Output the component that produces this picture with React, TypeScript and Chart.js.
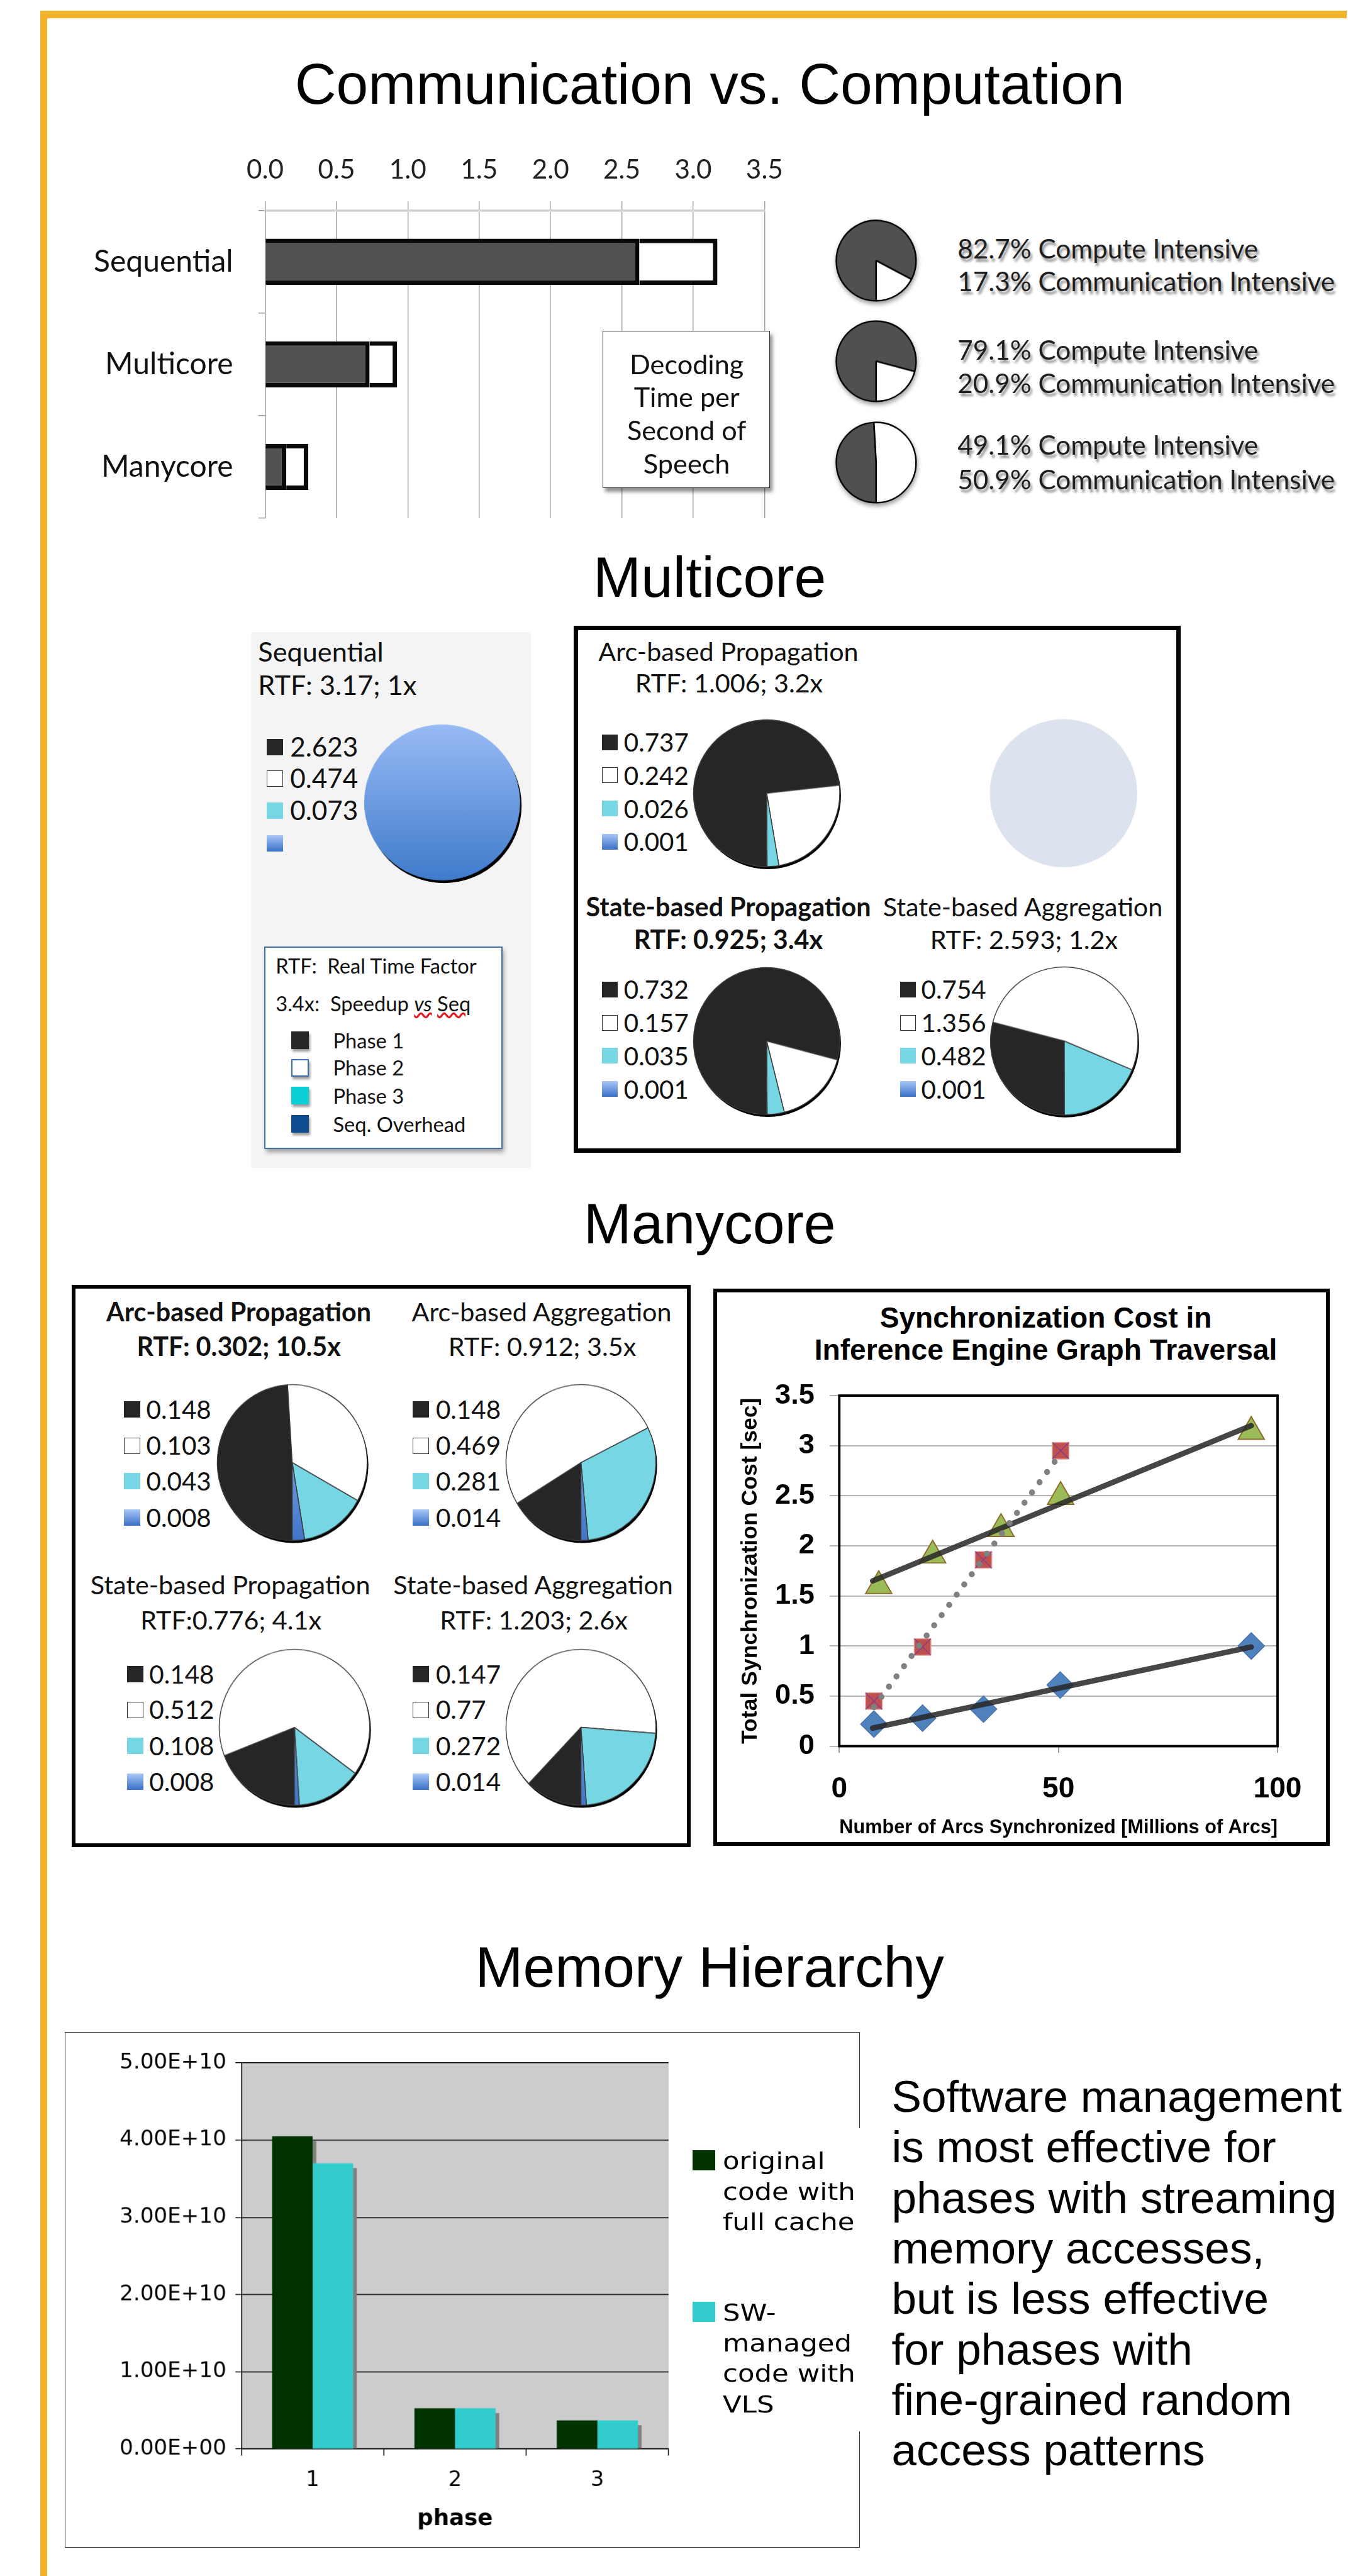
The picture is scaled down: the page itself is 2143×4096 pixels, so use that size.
import React, { useEffect, useRef } from 'react';
import { Chart, registerables } from 'chart.js';

Chart.register(...registerables);

const K = 0.961;
const s = (v: number) => v * K;

const LATO = 'Lato, "Open Sans", sans-serif';
const ARIAL = '"Liberation Sans", Arial, sans-serif';
const DEJAVU = '"DejaVu Sans", Verdana, sans-serif';

// ---------------- DATA ----------------
const commCategories = ['Sequential', 'Multicore', 'Manycore'];
const computeTime = [2.623, 0.732, 0.148];
const communicationTime = [0.547, 0.193, 0.154];
const computeShare = [82.7, 79.1, 49.1];
const communicationShare = [17.3, 20.9, 50.9];
const decodingLabel = ['Decoding', 'Time per', 'Second of', 'Speech'];

const seqPhaseValues = [2.623, 0.474, 0.073];
const mcArcPropValues = [0.737, 0.242, 0.026, 0.001];
const mcStatePropValues = [0.732, 0.157, 0.035, 0.001];
const mcStateAggValues = [0.754, 1.356, 0.482, 0.001];

const manyArcPropValues = [0.148, 0.103, 0.043, 0.008];
const manyArcAggValues = [0.148, 0.469, 0.281, 0.014];
const manyStatePropValues = [0.148, 0.512, 0.108, 0.008];
const manyStateAggValues = [0.147, 0.77, 0.272, 0.014];

const syncDiamondX = [7.9, 19.0, 32.9, 50.4, 94.0];
const syncDiamondY = [0.22, 0.28, 0.37, 0.61, 1.0];
const syncSquareX = [7.9, 19.0, 32.9, 50.5];
const syncSquareY = [0.45, 0.99, 1.86, 2.95];
const syncTriangleX = [9.0, 21.3, 36.9, 50.5, 94.0];
const syncTriangleY = [1.6, 1.905, 2.17, 2.49, 3.14];
const diamondTrendX = [7.6, 94.0];
const diamondTrendY = [0.18, 0.99];
const squareTrendX = [7.9, 50.5];
const squareTrendY = [0.39, 2.92];
const triangleTrendX = [7.6, 94.0];
const triangleTrendY = [1.65, 3.2];

const memPhases = ['1', '2', '3'];
const memOriginal = [4.05e10, 0.527e10, 0.37e10];
const memSwManaged = [3.7e10, 0.527e10, 0.37e10];
const memSeriesLines = [
  ['original', 'code with', 'full cache'],
  ['SW-', 'managed', 'code with', 'VLS'],
];
const memNote = [
  'Software management',
  'is most effective for',
  'phases with streaming',
  'memory accesses,',
  'but is less effective',
  'for phases with',
  'fine-grained random',
  'access patterns',
];

// ---------------- HELPERS ----------------
const DARK = '#262626';
const CYAN = '#76d6e4';

const baseOptions: any = {
  animation: false,
  responsive: true,
  maintainAspectRatio: false,
  events: [],
  plugins: { legend: { display: false }, tooltip: { enabled: false } },
};

const zeroPad = (sc: any) => {
  sc.paddingLeft = 0;
  sc.paddingRight = 0;
  sc.paddingTop = 0;
  sc.paddingBottom = 0;
};
const fixH = (h: number) => (sc: any) => {
  sc.height = s(h);
  zeroPad(sc);
};
const fixW = (w: number) => (sc: any) => {
  sc.width = s(w);
  zeroPad(sc);
};

function blueGrad(ctx: any, top = '#a8c6f8', bottom = '#3a70c6') {
  const chart = ctx.chart;
  const a = chart.chartArea;
  if (!a) return bottom;
  const g = chart.ctx.createLinearGradient(0, a.top, 0, a.bottom);
  g.addColorStop(0, top);
  g.addColorStop(1, bottom);
  return g;
}

const crescent = (dx: number, dy: number, color: string) => ({
  id: 'crescent',
  beforeDatasetsDraw(chart: any) {
    const arc = chart.getDatasetMeta(0).data[0];
    if (!arc) return;
    const c = chart.ctx;
    c.save();
    c.fillStyle = color;
    c.beginPath();
    c.arc(arc.x + dx, arc.y + dy, arc.outerRadius, 0, Math.PI * 2);
    c.fill();
    c.restore();
  },
});

function phasePie(values: number[], r: number) {
  return () => ({
    type: 'pie',
    data: {
      labels: values.map((v) => String(v)),
      datasets: [
        {
          data: values,
          backgroundColor: (ctx: any) => [DARK, '#ffffff', CYAN, blueGrad(ctx)][ctx.dataIndex],
          borderColor: '#3a3a3a',
          borderWidth: s(1.5),
          radius: s(r),
          rotation: 180,
        },
      ],
    },
    options: { ...baseOptions, rotation: 180 },
    plugins: [crescent(s(2), s(4), '#000')],
  });
}

function ChartBox({ cx, cy, x, y, w, h, make, style }: any) {
  const ref = useRef<HTMLCanvasElement | null>(null);
  useEffect(() => {
    if (!ref.current) return;
    const chart = new Chart(ref.current, make());
    return () => chart.destroy();
  }, []);
  const left = cx !== undefined ? cx - w / 2 : x;
  const top = cy !== undefined ? cy - h / 2 : y;
  return (
    <div style={{ position: 'absolute', left: s(left), top: s(top), width: s(w), height: s(h), ...style }}>
      <canvas ref={ref} />
    </div>
  );
}

function Txt({ x, y, size, children, align = 'left', weight = 400, family = LATO, color = '#111', style }: any) {
  const lh = size * 1.2;
  const common: React.CSSProperties = {
    position: 'absolute',
    top: s(y - lh / 2),
    height: s(lh),
    lineHeight: `${s(lh)}px`,
    fontSize: s(size),
    fontFamily: family,
    fontWeight: weight,
    color,
    whiteSpace: 'pre',
    ...style,
  };
  if (align === 'center')
    return <div style={{ ...common, left: s(x - 700), width: s(1400), textAlign: 'center' }}>{children}</div>;
  if (align === 'right')
    return <div style={{ ...common, left: s(x - 1400), width: s(1400), textAlign: 'right' }}>{children}</div>;
  return <div style={{ ...common, left: s(x) }}>{children}</div>;
}

const markerStyles: React.CSSProperties[] = [
  { background: DARK },
  { background: '#fff', border: `${s(2)}px solid #333`, boxSizing: 'border-box' },
  { background: CYAN },
  { background: 'linear-gradient(#a8c6f8, #3a70c6)' },
];

function PieLegend({ x, ys, values, size = 42, msize = 27, textX }: any) {
  return (
    <>
      {ys.map((y: number, i: number) => (
        <React.Fragment key={i}>
          <div
            style={{
              position: 'absolute',
              left: s(x),
              top: s(y - msize / 2),
              width: s(msize),
              height: s(msize),
              ...markerStyles[i],
            }}
          />
          <Txt x={textX} y={y} size={size}>
            {values[i] !== undefined ? String(values[i]) : ''}
          </Txt>
        </React.Fragment>
      ))}
    </>
  );
}

function Box({ x, y, w, h, bw, color = '#000', style }: any) {
  return (
    <div
      style={{
        position: 'absolute',
        left: s(x),
        top: s(y),
        width: s(w),
        height: s(h),
        border: `${s(bw)}px solid ${color}`,
        boxSizing: 'border-box',
        ...style,
      }}
    />
  );
}

// ---------------- CHART CONFIGS ----------------
const commBarConfig = () => ({
  type: 'bar',
  data: {
    labels: commCategories,
    datasets: [
      { data: computeTime, backgroundColor: '#525252', borderColor: '#0a0a0a', borderWidth: s(7.5) },
      { data: communicationTime, backgroundColor: '#ffffff', borderColor: '#0a0a0a', borderWidth: s(7.5) },
    ],
  },
  options: {
    ...baseOptions,
    indexAxis: 'y',
    datasets: { bar: { categoryPercentage: 1, barPercentage: 0.45 } },
    layout: { padding: { right: s(35), bottom: s(23) } },
    scales: {
      x: {
        position: 'top',
        stacked: true,
        min: 0,
        max: 3.5,
        ticks: {
          stepSize: 0.5,
          callback: (v: any) => Number(v).toFixed(1),
          font: { family: LATO, size: s(44) },
          color: '#222',
          padding: s(26),
        },
        grid: { color: '#a0a0a0', lineWidth: s(1.5), tickLength: s(15) },
        border: { color: '#d4d4d4', width: s(4) },
        afterFit: fixH(108),
      },
      y: {
        stacked: true,
        ticks: { font: { family: LATO, size: s(50) }, color: '#111', padding: s(42) },
        grid: { drawOnChartArea: false, offset: true, tickLength: s(11), color: '#999', lineWidth: s(1.5) },
        border: { color: '#aaa', width: s(1.5) },
        afterFit: fixW(319),
      },
    },
  },
});

const smallPie = (i: number) => () => ({
  type: 'pie',
  data: {
    labels: ['Compute Intensive', 'Communication Intensive'],
    datasets: [
      {
        data: [computeShare[i], communicationShare[i]],
        backgroundColor: ['#505050', '#ffffff'],
        borderColor: '#000',
        borderWidth: s(2.5),
        radius: s(66),
        rotation: 180,
      },
    ],
  },
  options: { ...baseOptions, rotation: 180 },
});

const seqPieConfig = () => ({
  type: 'pie',
  data: {
    labels: seqPhaseValues.map(String),
    datasets: [
      {
        data: seqPhaseValues,
        backgroundColor: (ctx: any) => blueGrad(ctx, '#9ebff8', '#3a77c8'),
        borderColor: (ctx: any) => blueGrad(ctx, '#9ebff8', '#3a77c8'),
        borderWidth: 1,
        radius: s(128),
        rotation: 180,
      },
    ],
  },
  options: { ...baseOptions, rotation: 180 },
  plugins: [crescent(s(3), s(5), '#000')],
});

const ghostPieConfig = () => ({
  type: 'pie',
  data: {
    labels: [''],
    datasets: [{ data: [1], backgroundColor: '#dde3ee', borderWidth: 0, radius: s(122) }],
  },
  options: { ...baseOptions },
});

const pts = (xs: number[], ys: number[]) => xs.map((x, i) => ({ x, y: ys[i] }));

const framePlugin = {
  id: 'frame',
  beforeDatasetsDraw(chart: any) {
    const a = chart.chartArea;
    const c = chart.ctx;
    c.save();
    c.strokeStyle = '#000';
    c.lineWidth = s(4);
    c.strokeRect(a.left, a.top, a.right - a.left, a.bottom - a.top);
    c.restore();
  },
};

const syncConfig = () => ({
  type: 'scatter',
  data: {
    datasets: [
      {
        data: pts(diamondTrendX, diamondTrendY),
        showLine: true,
        borderColor: 'rgba(38,38,38,0.85)',
        borderWidth: s(9),
        borderCapStyle: 'round',
        pointRadius: 0,
        order: 0,
      },
      {
        data: pts(squareTrendX, squareTrendY),
        showLine: true,
        borderColor: '#808080',
        borderWidth: s(10),
        borderDash: [0, s(21)],
        borderCapStyle: 'round',
        pointRadius: 0,
        order: 0,
      },
      {
        data: pts(triangleTrendX, triangleTrendY),
        showLine: true,
        borderColor: 'rgba(38,38,38,0.85)',
        borderWidth: s(9),
        borderCapStyle: 'round',
        pointRadius: 0,
        order: 0,
      },
      {
        data: pts(syncSquareX, syncSquareY),
        pointStyle: 'crossRot',
        pointRadius: s(19),
        borderColor: '#7f3f8f',
        borderWidth: s(1.5),
        backgroundColor: 'transparent',
        order: 1,
      },
      {
        data: pts(syncDiamondX, syncDiamondY),
        pointStyle: 'rectRot',
        pointRadius: s(22),
        backgroundColor: '#4f81bd',
        borderColor: '#4674ab',
        borderWidth: s(1.5),
        order: 2,
      },
      {
        data: pts(syncSquareX, syncSquareY),
        pointStyle: 'rect',
        pointRadius: s(19.5),
        backgroundColor: '#c0504d',
        borderColor: '#e3a19f',
        borderWidth: s(1.5),
        order: 2,
      },
      {
        data: pts(syncTriangleX, syncTriangleY),
        pointStyle: 'triangle',
        pointRadius: s(25),
        backgroundColor: '#9bbb59',
        borderColor: '#8d6b2a',
        borderWidth: s(2),
        order: 2,
      },
    ],
  },
  options: {
    ...baseOptions,
    layout: { padding: { top: s(49), right: s(82) } },
    scales: {
      x: {
        type: 'linear',
        min: 0,
        max: 100,
        ticks: {
          stepSize: 50,
          callback: (v: any) => String(Number(v)),
          font: { family: ARIAL, size: s(48), weight: 'bold' },
          color: '#000',
          padding: s(32),
        },
        grid: { drawOnChartArea: false, tickLength: s(11), color: '#999', lineWidth: s(2) },
        border: { display: false },
        title: {
          display: true,
          text: 'Number of Arcs Synchronized [Millions of Arcs]',
          font: { family: ARIAL, size: s(32), weight: 'bold' },
          color: '#000',
          padding: { top: 0, bottom: s(4) },
        },
        afterFit: fixH(159),
      },
      y: {
        min: 0,
        max: 3.5,
        ticks: {
          stepSize: 0.5,
          callback: (v: any) => String(Number(v)),
          font: { family: ARIAL, size: s(47), weight: 'bold' },
          color: '#000',
          padding: s(25),
        },
        grid: { color: '#b3b3b3', lineWidth: s(2), tickLength: s(16) },
        border: { display: false },
        title: {
          display: true,
          text: 'Total Synchronization Cost [sec]',
          font: { family: ARIAL, size: s(37), weight: 'bold' },
          color: '#000',
          padding: { top: s(29), bottom: 0 },
        },
        afterFit: fixW(198),
      },
    },
  },
  plugins: [framePlugin],
});

const plotBg = (color: string) => ({
  id: 'plotBg',
  beforeDraw(chart: any) {
    const a = chart.chartArea;
    const c = chart.ctx;
    c.save();
    c.fillStyle = color;
    c.fillRect(a.left, a.top, a.right - a.left, a.bottom - a.top);
    c.restore();
  },
});

const barShadow = {
  id: 'barShadow',
  beforeDatasetsDraw(chart: any) {
    const c = chart.ctx;
    c.save();
    c.fillStyle = '#808080';
    const dx = s(6);
    const dy = s(8);
    chart.data.datasets.forEach((_: any, d: number) => {
      chart.getDatasetMeta(d).data.forEach((el: any) => {
        c.fillRect(el.x - el.width / 2 + dx, el.y + dy, el.width, el.base - el.y - dy);
      });
    });
    c.restore();
  },
};

const fmtExp = (v: any) => {
  const n = Number(v);
  if (n === 0) return '0.00E+00';
  const e = Math.floor(Math.log10(n) + 1e-9);
  const m = n / Math.pow(10, e);
  return `${m.toFixed(2)}E+${String(e).padStart(2, '0')}`;
};

const memConfig = () => ({
  type: 'bar',
  data: {
    labels: memPhases,
    datasets: [
      { label: memSeriesLines[0].join(' '), data: memOriginal, backgroundColor: '#003300' },
      { label: memSeriesLines[1].join(' '), data: memSwManaged, backgroundColor: '#33cccc' },
    ],
  },
  options: {
    ...baseOptions,
    datasets: { bar: { categoryPercentage: 0.57, barPercentage: 1 } },
    layout: { padding: { top: s(51), right: s(317) } },
    scales: {
      x: {
        grid: { drawOnChartArea: false, offset: true, tickLength: s(11), color: '#000', lineWidth: s(1.5) },
        border: { color: '#000', width: s(1.5) },
        ticks: { font: { family: DEJAVU, size: s(35) }, color: '#000', padding: s(20) },
        title: {
          display: true,
          text: 'phase',
          font: { family: DEJAVU, size: s(37), weight: 'bold' },
          color: '#000',
          padding: { top: 0, bottom: s(26) },
        },
        afterFit: fixH(164),
      },
      y: {
        min: 0,
        max: 5e10,
        ticks: {
          stepSize: 1e10,
          callback: fmtExp,
          font: { family: DEJAVU, size: s(35.5) },
          color: '#000',
          padding: s(15),
        },
        grid: { color: '#000', lineWidth: s(1.5), tickLength: s(10) },
        border: { color: '#000', width: s(1.5) },
        afterFit: fixW(292),
      },
    },
  },
  plugins: [plotBg('#cccccc'), barShadow],
});

// ---------------- APP ----------------
export default function App() {
  const orange = '#f1b32c';
  const smallPieCY = [431, 597, 765];
  const smallTextY = [
    [411, 466],
    [579, 634],
    [736, 793],
  ];
  const mcLegYTop = [1228, 1283, 1338, 1393];
  const mcLegYBot = [1637, 1692, 1747, 1802];
  const manyLegTop = [2332, 2392, 2451, 2511];
  const manyLegBot = [2770, 2829, 2889, 2948];
  const phaseMarkers = [
    { background: '#262626' },
    { background: '#fff', border: `${s(2.5)}px solid #3d6fb0`, boxSizing: 'border-box' as const },
    { background: '#0dcfd8' },
    { background: '#0e4d8f' },
  ];
  const phaseNames = ['Phase 1', 'Phase 2', 'Phase 3', 'Seq. Overhead'];
  const phaseY = [1722, 1767, 1813, 1860];
  const wavy = { textDecoration: 'underline wavy #e02020' };
  const textShadow = `${s(3)}px ${s(5)}px ${s(4)}px rgba(0,0,0,0.45)`;

  return (
    <div
      style={{
        position: 'absolute',
        left: 0,
        top: 0,
        width: 2143,
        height: 4096,
        overflow: 'hidden',
        background: '#fff',
      }}
    >
      {/* orange frame */}
      <div style={{ position: 'absolute', left: s(67), top: s(18), width: s(2228 - 67), height: s(12), background: orange }} />
      <div style={{ position: 'absolute', left: s(67), top: s(18), width: s(11), height: s(4258), background: orange }} />

      {/* ===== Section 1 ===== */}
      <Txt x={1174} y={139} size={95} align="center" family={ARIAL} color="#000">
        Communication vs. Computation
      </Txt>
      <ChartBox x={120} y={240} w={1180} h={640} make={commBarConfig} />
      <div
        style={{
          position: 'absolute',
          left: s(997),
          top: s(547),
          width: s(277),
          height: s(260),
          border: `${s(2)}px solid #333`,
          background: '#fff',
          boxSizing: 'border-box',
          boxShadow: `${s(4)}px ${s(6)}px ${s(6)}px rgba(0,0,0,0.45)`,
        }}
      />
      {decodingLabel.map((t, i) => (
        <Txt key={t} x={1136} y={602 + 55 * i} size={45} align="center">
          {t}
        </Txt>
      ))}
      {smallPieCY.map((cy, i) => (
        <ChartBox
          key={i}
          cx={1449}
          cy={cy}
          w={160}
          h={160}
          make={smallPie(i)}
          style={{ filter: `drop-shadow(${s(2)}px ${s(5)}px ${s(4)}px rgba(0,0,0,0.4))` }}
        />
      ))}
      {smallTextY.map((ys, i) => (
        <React.Fragment key={i}>
          <Txt x={1584} y={ys[0]} size={44} color="#1e1e1e" style={{ textShadow }}>
            {`${computeShare[i].toFixed(1)}% Compute Intensive`}
          </Txt>
          <Txt x={1584} y={ys[1]} size={44} color="#1e1e1e" style={{ textShadow }}>
            {`${communicationShare[i].toFixed(1)}% Communication Intensive`}
          </Txt>
        </React.Fragment>
      ))}

      {/* ===== Section 2: Multicore ===== */}
      <Txt x={1174} y={955} size={95} align="center" family={ARIAL} color="#000">
        Multicore
      </Txt>
      <div style={{ position: 'absolute', left: s(415), top: s(1046), width: s(463), height: s(886), background: '#f4f4f4' }} />
      <Txt x={427} y={1078} size={45}>
        Sequential
      </Txt>
      <Txt x={427} y={1133} size={45}>
        RTF: 3.17; 1x
      </Txt>
      <PieLegend x={441} textX={480} ys={[1236, 1288, 1341, 1395]} values={seqPhaseValues} size={44} msize={27} />
      <ChartBox cx={731} cy={1327} w={290} h={290} make={seqPieConfig} />

      <div
        style={{
          position: 'absolute',
          left: s(437),
          top: s(1566),
          width: s(394),
          height: s(335),
          border: `${s(2.5)}px solid #4170aa`,
          background: '#fff',
          boxSizing: 'border-box',
          boxShadow: `${s(3)}px ${s(6)}px ${s(7)}px rgba(0,0,0,0.35)`,
        }}
      />
      <Txt x={456} y={1598} size={34}>
        {'RTF:  Real Time Factor'}
      </Txt>
      <Txt x={456} y={1660} size={34}>
        {'3.4x:  Speedup '}
        <span style={{ fontStyle: 'italic', ...wavy }}>vs</span> <span style={wavy}>Seq</span>
      </Txt>
      {phaseNames.map((n, i) => (
        <React.Fragment key={n}>
          <div
            style={{
              position: 'absolute',
              left: s(482),
              top: s(phaseY[i] - 15),
              width: s(29),
              height: s(29),
              boxShadow: `${s(2)}px ${s(4)}px ${s(4)}px rgba(0,0,0,0.4)`,
              ...phaseMarkers[i],
            }}
          />
          <Txt x={551} y={phaseY[i]} size={34}>
            {n}
          </Txt>
        </React.Fragment>
      ))}

      <Box x={949} y={1035} w={1004} h={872} bw={8} />
      <Txt x={1205} y={1078} size={43} align="center">
        Arc-based Propagation
      </Txt>
      <Txt x={1206} y={1130} size={43} align="center">
        RTF: 1.006; 3.2x
      </Txt>
      <PieLegend x={996} textX={1032} ys={mcLegYTop} values={mcArcPropValues} msize={26} />
      <ChartBox cx={1268} cy={1312} w={270} h={270} make={phasePie(mcArcPropValues, 121)} />
      <ChartBox cx={1759} cy={1312} w={270} h={270} make={ghostPieConfig} />

      <Txt x={1205} y={1500} size={43} align="center" weight={700}>
        State-based Propagation
      </Txt>
      <Txt x={1205} y={1554} size={43} align="center" weight={700}>
        RTF: 0.925; 3.4x
      </Txt>
      <Txt x={1692} y={1500} size={43} align="center">
        State-based Aggregation
      </Txt>
      <Txt x={1694} y={1554} size={43} align="center">
        RTF: 2.593; 1.2x
      </Txt>
      <PieLegend x={996} textX={1032} ys={mcLegYBot} values={mcStatePropValues} msize={26} />
      <ChartBox cx={1268} cy={1722} w={270} h={270} make={phasePie(mcStatePropValues, 121)} />
      <PieLegend x={1489} textX={1524} ys={mcLegYBot} values={mcStateAggValues} msize={26} />
      <ChartBox cx={1760} cy={1722} w={270} h={270} make={phasePie(mcStateAggValues, 122)} />

      {/* ===== Section 3: Manycore ===== */}
      <Txt x={1174} y={2025} size={95} align="center" family={ARIAL} color="#000">
        Manycore
      </Txt>
      <Box x={119} y={2126} w={1024} h={930} bw={7} />
      <Txt x={395} y={2170} size={43} align="center" weight={700}>
        Arc-based Propagation
      </Txt>
      <Txt x={395} y={2228} size={43} align="center" weight={700}>
        RTF: 0.302; 10.5x
      </Txt>
      <Txt x={896} y={2170} size={43} align="center">
        Arc-based Aggregation
      </Txt>
      <Txt x={897} y={2228} size={43} align="center">
        RTF: 0.912; 3.5x
      </Txt>
      <PieLegend x={205} textX={242} ys={manyLegTop} values={manyArcPropValues} />
      <ChartBox cx={483} cy={2420} w={280} h={280} make={phasePie(manyArcPropValues, 124)} style={{ transform: 'scaleY(1.04)' }} />
      <PieLegend x={683} textX={721} ys={manyLegTop} values={manyArcAggValues} />
      <ChartBox cx={961} cy={2420} w={280} h={280} make={phasePie(manyArcAggValues, 124)} style={{ transform: 'scaleY(1.04)' }} />

      <Txt x={381} y={2622} size={43} align="center">
        State-based Propagation
      </Txt>
      <Txt x={382} y={2680} size={43} align="center">
        RTF:0.776; 4.1x
      </Txt>
      <Txt x={882} y={2622} size={43} align="center">
        State-based Aggregation
      </Txt>
      <Txt x={883} y={2680} size={43} align="center">
        RTF: 1.203; 2.6x
      </Txt>
      <PieLegend x={210} textX={247} ys={manyLegBot} values={manyStatePropValues} />
      <ChartBox cx={487} cy={2858} w={280} h={280} make={phasePie(manyStatePropValues, 124)} style={{ transform: 'scaleY(1.04)' }} />
      <PieLegend x={683} textX={721} ys={manyLegBot} values={manyStateAggValues} />
      <ChartBox cx={961} cy={2858} w={280} h={280} make={phasePie(manyStateAggValues, 124)} style={{ transform: 'scaleY(1.04)' }} />

      <Box x={1180} y={2132} w={1020} h={922} bw={7} />
      <Txt x={1730} y={2181} size={48} align="center" weight={700} family={ARIAL} color="#000">
        Synchronization Cost in
      </Txt>
      <Txt x={1730} y={2234} size={48} align="center" weight={700} family={ARIAL} color="#000">
        Inference Engine Graph Traversal
      </Txt>
      <ChartBox x={1190} y={2260} w={1005} h={788} make={syncConfig} />

      {/* ===== Section 4: Memory Hierarchy ===== */}
      <Txt x={1174} y={3255} size={95} align="center" family={ARIAL} color="#000">
        Memory Hierarchy
      </Txt>
      <Box x={107} y={3362} w={1315} h={853} bw={1.5} color="#333" />
      <ChartBox x={107} y={3362} w={1315} h={853} make={memConfig} />
      <div style={{ position: 'absolute', left: s(1414), top: s(3521), width: s(16), height: s(502), background: '#fff' }} />
      <div style={{ position: 'absolute', left: s(1146), top: s(3558), width: s(37), height: s(33), background: '#003300' }} />
      <div style={{ position: 'absolute', left: s(1146), top: s(3809), width: s(37), height: s(33), background: '#33cccc' }} />
      {memSeriesLines.map((lines, k) =>
        lines.map((t, i) => (
          <Txt
            key={`${k}-${i}`}
            x={1196}
            y={[3576, 3827][k] + i * 50.5}
            size={39}
            family={DEJAVU}
            color="#000"
            style={{ transform: 'scaleX(1.16)', transformOrigin: 'left center' }}
          >
            {t}
          </Txt>
        ))
      )}
      {memNote.map((t, i) => (
        <Txt key={t} x={1475} y={3469 + i * 83.6} size={74} family={ARIAL} color="#000">
          {t}
        </Txt>
      ))}
    </div>
  );
}
